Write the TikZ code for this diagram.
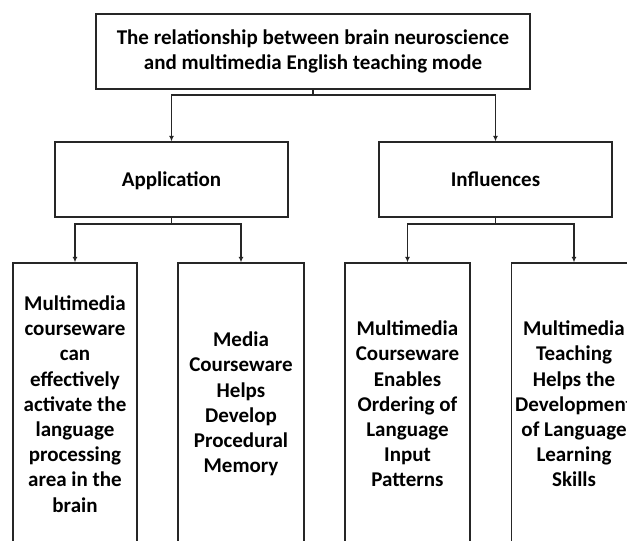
\documentclass[tikz,border=0pt]{standalone}
\usepackage{fontspec}
\setmainfont{Carlito}
\usetikzlibrary{arrows.meta}
\tikzset{
  box/.style={draw=black!85, line width=1.3pt, fill=white, align=center, inner sep=0pt,
    font=\fontsize{21}{25.2}\selectfont\bfseries},
  arr/.style={draw=black!85, line width=1.3pt, -{Latex[length=5.5pt,width=5pt]}},
  midbox/.style={box, minimum width=233pt, minimum height=75pt, text height=17pt, text depth=3pt}
}
\begin{document}
\begin{tikzpicture}[x=1pt,y=-1pt]
\useasboundingbox (0,0) rectangle (627,541);
\clip (0,0) rectangle (627,541);
\node[box, minimum width=434pt, minimum height=75pt] (top) at (313,51.5)
  {The relationship between brain neuroscience\\and multimedia English teaching mode};
\node[midbox] (app) at (171.5,179.5) {Application};
\node[midbox] (inf) at (495.5,179.5) {Influences};
\node[box, minimum width=124pt, minimum height=282pt] (b1) at (75,404)
  {Multimedia\\courseware\\can\\effectively\\activate the\\language\\processing\\area in the\\brain};
\node[box, minimum width=126pt, minimum height=282pt] (b2) at (241,404)
  {Media\\Courseware\\Helps\\Develop\\Procedural\\Memory};
\node[box, minimum width=125pt, minimum height=282pt] (b3) at (407.5,404)
  {Multimedia\\Courseware\\Enables\\Ordering of\\Language\\Input\\Patterns};
\node[box, minimum width=125pt, minimum height=282pt] (b4) at (574,404)
  {Multimedia\\Teaching\\Helps the\\Development\\of Language\\Learning\\Skills};
\coordinate (j0) at (313,95);
\coordinate (j1) at (171.5,224);
\coordinate (j2) at (495.5,224);
\draw[arr] (top.south) -- (j0) -| (app.north);
\draw[arr] (j0) -| (inf.north);
\draw[arr] (app.south) -- (j1) -| (b1.north);
\draw[arr] (j1) -| (b2.north);
\draw[arr] (inf.south) -- (j2) -| (b3.north);
\draw[arr] (j2) -| (b4.north);
\end{tikzpicture}
\end{document}
